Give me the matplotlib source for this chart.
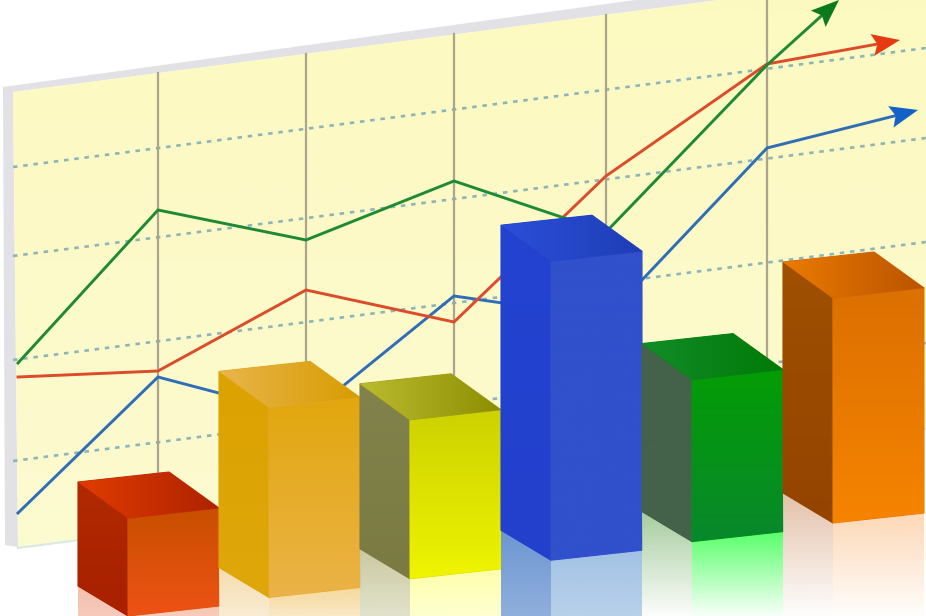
import numpy as np
import matplotlib
matplotlib.use('Agg')
import matplotlib.pyplot as plt
from matplotlib.colors import to_rgba
from matplotlib.patches import Polygon

# line chart on the back panel (y in pixels)
line_x = [18, 158, 306, 454, 606, 767]
green_line = [363, 210, 240, 181, 232, 65]
red_line = [377, 371, 290, 322, 176, 64]
blue_line = [513, 377, 416, 296, 318, 148]
green_tip = (839, 0)
red_tip = (900, 40)
blue_tip = (918, 110)

grid_x = [158, 306, 454, 606, 767]
grid_top = [73, 54, 34, 15, -6]
grid_bottom = [528, 509, 490, 470, 449]
dash_left = [167, 256, 360, 461]
dash_right = [48, 138, 242, 343]

# front height of each 3d bar
bar_heights = [98, 190, 159, 299, 162, 225]

# colours per bar: front top, front bottom, side top, side bottom, lid left, lid right
bar_colors = [
    ('#c84f00', '#ee5215', '#b02a00', '#a82000', '#e03c00', '#ae2200'),
    ('#e2a70e', '#ebb348', '#dba200', '#e0a70c', '#e8b54a', '#d89c02'),
    ('#cdd200', '#eef400', '#82824c', '#7a7a42', '#bcbb30', '#8c8e00'),
    ('#3050cc', '#3050cc', '#2243d0', '#2240cc', '#2c4ed8', '#1e3eb6'),
    ('#049c06', '#08882c', '#44624a', '#44624a', '#128c28', '#007a06'),
    ('#dc7000', '#f68400', '#a05000', '#944400', '#ea7a00', '#ba5400'),
]
# reflection: side colour, front colour, colour left at the bottom of the picture
refl_colors = [
    ('#f4bfae', '#f8c4b0', 0.8),
    ('#f5dcae', '#f6d89a', 0.5),
    ('#c9c9a0', '#feffa8', 0.5),
    ('#6c96d2', '#a2c2e4', 0.75),
    ('#a6cc9e', '#58ff6a', 0.0),
    ('#e4c2aa', '#fdd8b6', 0.0),
]

W, H = 926, 616
fig = plt.figure(figsize=(W / 100, H / 100), dpi=100)
ax = fig.add_axes([0, 0, 1, 1])


def grad_fill(pts, c1, c2, horizontal=False, zorder=1, seal=True):
    # polygon with a linear gradient, done as a clipped image
    pts = np.array(pts, dtype=float)
    x0, y0 = pts.min(axis=0)
    x1, y1 = pts.max(axis=0)
    if seal:
        # plain polygon underneath so no white seams show at the edges
        mid = (np.array(to_rgba(c1)) + np.array(to_rgba(c2))) / 2
        ax.add_patch(Polygon(pts, closed=True, fc=mid, ec=mid, lw=0.8, zorder=zorder))
    t = np.linspace(0, 1, 64)[:, None]
    rgba = np.array(to_rgba(c1)) * (1 - t) + np.array(to_rgba(c2)) * t
    img = rgba[None, :, :] if horizontal else rgba[:, None, :]
    im = ax.imshow(img, extent=(x0, x1, y1, y0), origin='upper', aspect='auto',
                   interpolation='bilinear', zorder=zorder)
    patch = Polygon(pts, closed=True, transform=ax.transData, fill=False, lw=0)
    ax.add_patch(patch)
    im.set_clip_path(patch)


def arrow_head(prev, tip, color, zorder=4):
    tip = np.array(tip, dtype=float)
    d = tip - np.array(prev, dtype=float)
    d = d / np.hypot(*d)
    n = np.array([-d[1], d[0]])
    head = [tip, tip - 28 * d + 11 * n, tip - 23 * d, tip - 28 * d - 11 * n]
    ax.add_patch(Polygon(head, closed=True, fc=color, ec='none', zorder=zorder))


# back panel
frame = [(3, 87), (926, -40), (926, -27), (13, 92), (18, 547), (5, 545)]
ax.add_patch(Polygon(frame, closed=True, fc='#e2e2e6', ec='none', zorder=1))
panel = [(13, 92), (926, -27), (926, 428), (18, 547)]
grad_fill(panel, '#fcf9c0', '#fcfbd0', zorder=1, seal=False)
ax.plot([18, 926], [548, 429], color='#d8e8e2', lw=1.5, zorder=1)

for a, b in zip(dash_left, dash_right):
    ax.plot([13, 926], [a, b], color='#8db4b8', lw=1.9, linestyle=(0, (1.7, 2.2)), zorder=2)
for x, a, b in zip(grid_x, grid_top, grid_bottom):
    ax.plot([x, x], [a, b], color='#aaa58c', lw=1.6, zorder=2)

# the three lines and their arrow heads
series = [(blue_line, blue_tip, '#2f6db6', '#1262c8'),
          (red_line, red_tip, '#dc4c2a', '#e63a12'),
          (green_line, green_tip, '#1f8a34', '#0a7a1c')]
for ys, tip, col, head_col in series:
    prev = (line_x[-1], ys[-1])
    d = np.array(tip, dtype=float) - prev
    stop = np.array(tip) - 22 * d / np.hypot(*d)
    ax.plot(line_x + [stop[0]], ys + [stop[1]], color=col, lw=2.1,
            solid_joinstyle='miter', zorder=3)
    arrow_head(prev, tip, head_col)

# bars, left to right so each one sits over the last
for i, h in enumerate(bar_heights):
    fx, fy = 128 + 141 * i, 616 - 18.6 * i      # front bottom left corner
    wx, wy = 91, -10                             # width direction
    dx, dy, dy_top = -50, -30, -36               # depth direction, lid a bit steeper
    ft, fb, st, sb, ll, lr = bar_colors[i]
    rs, rf, keep = refl_colors[i]
    z = 5 + i

    # reflection on the floor
    floor = H + 4
    fade_s = to_rgba(rs, keep)
    fade_f = to_rgba(rf, keep)
    if fy + dy < H:
        grad_fill([(fx + dx, fy + dy), (fx, fy), (fx, floor), (fx + dx, floor)],
                  rs, fade_s, zorder=z, seal=False)
    if fy + wy < H:
        grad_fill([(fx, fy), (fx + wx, fy + wy), (fx + wx, floor), (fx, floor)],
                  rf, fade_f, zorder=z, seal=False)

    # side, front, lid
    grad_fill([(fx + dx, fy + dy_top - h), (fx, fy - h), (fx, fy), (fx + dx, fy + dy)],
              st, sb, zorder=z)
    grad_fill([(fx, fy - h), (fx + wx, fy + wy - h), (fx + wx, fy + wy), (fx, fy)],
              ft, fb, zorder=z)
    grad_fill([(fx + dx, fy + dy_top - h), (fx + dx + wx, fy + dy_top + wy - h),
               (fx + wx, fy + wy - h), (fx, fy - h)], ll, lr, horizontal=True, zorder=z)

ax.set_xlim(0, W)
ax.set_ylim(H, 0)
ax.axis('off')
fig.savefig('out.png', dpi=100, facecolor='white')
